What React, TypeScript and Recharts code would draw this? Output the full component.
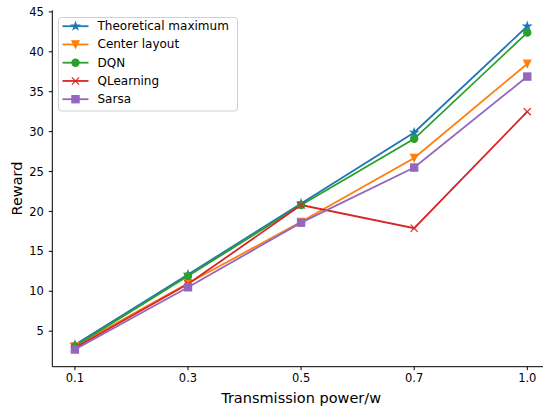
import React from "react";
import { LineChart, Line, XAxis, YAxis, Legend } from "recharts";

// x categories (transmission power) and reward per method
const powers = ["0.1", "0.3", "0.5", "0.7", "1.0"];
const theoretical = [3.3, 12.1, 21.0, 29.9, 43.2];
const centerLayout = [3.1, 11.0, 18.7, 26.7, 38.5];
const dqn = [3.1, 11.9, 20.8, 29.1, 42.4];
const qlearning = [2.9, 10.9, 20.8, 17.9, 32.5];
const sarsa = [2.7, 10.5, 18.6, 25.5, 36.9];
const yTicks = [5, 10, 15, 20, 25, 30, 35, 40, 45];

const data = powers.map((p, i) => ({
  i,
  p,
  theo: theoretical[i],
  center: centerLayout[i],
  dqn: dqn[i],
  q: qlearning[i],
  sarsa: sarsa[i],
}));

const FONT = "'DejaVu Sans', Verdana, sans-serif";
const R = 3.6;

type Shape = "star" | "tri" | "circle" | "x" | "square";

const series: { key: string; name: string; color: string; shape: Shape }[] = [
  { key: "theo", name: "Theoretical maximum", color: "#1f77b4", shape: "star" },
  { key: "center", name: "Center layout", color: "#ff7f0e", shape: "tri" },
  { key: "dqn", name: "DQN", color: "#2ca02c", shape: "circle" },
  { key: "q", name: "QLearning", color: "#d62728", shape: "x" },
  { key: "sarsa", name: "Sarsa", color: "#9467bd", shape: "square" },
];

function Mark({ shape, cx, cy, color }: { shape: Shape; cx: number; cy: number; color: string }) {
  if (cx == null || cy == null) return null;
  const sw = 1.2;
  switch (shape) {
    case "star": {
      const pts: string[] = [];
      const ro = R + 0.2;
      const ri = ro * 0.382;
      for (let k = 0; k < 10; k++) {
        const r = k % 2 === 0 ? ro : ri;
        const a = -Math.PI / 2 + (k * Math.PI) / 5;
        pts.push(`${cx + r * Math.cos(a)},${cy + r * Math.sin(a)}`);
      }
      return <polygon points={pts.join(" ")} fill={color} stroke={color} strokeWidth={sw} strokeLinejoin="miter" />;
    }
    case "tri":
      return (
        <polygon
          points={`${cx},${cy + R} ${cx - R},${cy - R} ${cx + R},${cy - R}`}
          fill={color}
          stroke={color}
          strokeWidth={sw}
        />
      );
    case "circle":
      return <circle cx={cx} cy={cy} r={R} fill={color} stroke={color} strokeWidth={sw} />;
    case "x":
      return (
        <g stroke={color} strokeWidth={sw}>
          <line x1={cx - R} y1={cy - R} x2={cx + R} y2={cy + R} />
          <line x1={cx - R} y1={cy + R} x2={cx + R} y2={cy - R} />
        </g>
      );
    case "square":
      return <rect x={cx - R} y={cy - R} width={2 * R} height={2 * R} fill={color} stroke={color} strokeWidth={sw} />;
  }
  return null;
}

function LegendBox() {
  return (
    <svg width={181} height={96} style={{ display: "block" }}>
      <rect x={0.5} y={0.5} width={179} height={93.5} rx={3} fill="#fff" fillOpacity={0.8} stroke="#d0d0d0" />
      {series.map((s, k) => {
        const y = 9.2 + k * 18.25;
        return (
          <g key={s.key}>
            <line x1={4.5} x2={30.5} y1={y} y2={y} stroke={s.color} strokeWidth={1.8} />
            <Mark shape={s.shape} cx={17.5} cy={y} color={s.color} />
            <text x={39.5} y={y} dominantBaseline="central" fontSize={12} fontFamily={FONT} fill="#000">
              {s.name}
            </text>
          </g>
        );
      })}
    </svg>
  );
}

const yLabel = (props: any) => {
  const vb = props.viewBox || { y: 10, height: 356 };
  const cx = 16.5;
  const cy = vb.y + vb.height / 2;
  return (
    <text
      x={cx}
      y={cy}
      transform={`rotate(-90 ${cx} ${cy})`}
      textAnchor="middle"
      dominantBaseline="central"
      fontSize={14.5}
      fontFamily={FONT}
      fill="#000"
    >
      Reward
    </text>
  );
};

const xLabel = (props: any) => {
  const vb = props.viewBox || { x: 52, width: 498 };
  return (
    <text x={vb.x + vb.width / 2} y={402.5} textAnchor="middle" fontSize={14.5} fontFamily={FONT} fill="#000">
      Transmission power/w
    </text>
  );
};

export default function App() {
  return (
    <div style={{ position: "absolute", left: 0, top: 0, width: 543, height: 410, overflow: "hidden", background: "#fff" }}>
      <LineChart width={552} height={410} data={data} margin={{ top: 10.3, right: 2.1, left: 0.3, bottom: 0 }}>
        <XAxis
          dataKey="i"
          type="number"
          domain={[-0.2, 4.2]}
          ticks={[0, 1, 2, 3, 4]}
          tickFormatter={(v: number) => powers[v]}
          height={43.3}
          tickSize={3.5}
          tickMargin={3.5}
          stroke="#000"
          axisLine={{ stroke: "#000", strokeWidth: 1 }}
          tickLine={{ stroke: "#000" }}
          tick={{ fontSize: 11.5, fill: "#000", fontFamily: FONT }}
          allowDataOverflow
          label={xLabel}
        />
        <XAxis
          xAxisId="top"
          orientation="top"
          dataKey="i"
          type="number"
          domain={[-0.2, 4.2]}
          height={0}
          tick={false}
          tickLine={false}
          axisLine={{ stroke: "#000", strokeWidth: 1 }}
        />
        <YAxis
          type="number"
          domain={[0.55, 45.2]}
          ticks={yTicks}
          width={52}
          tickSize={3.5}
          tickMargin={5}
          allowDataOverflow
          axisLine={{ stroke: "#000", strokeWidth: 1 }}
          tickLine={{ stroke: "#000" }}
          tick={{ fontSize: 11.5, fill: "#000", fontFamily: FONT }}
          label={yLabel}
        />
        <Legend
          layout="vertical"
          align="center"
          verticalAlign="middle"
          wrapperStyle={{ position: "absolute", left: 57.5, top: 16.5, width: 181, height: 96 }}
          content={() => <LegendBox />}
        />
        {series.map((s) => (
          <Line
            key={s.key}
            dataKey={s.key}
            name={s.name}
            stroke={s.color}
            strokeWidth={1.8}
            type="linear"
            isAnimationActive={false}
            dot={(p: any) => <Mark key={`${s.key}-${p.index}`} shape={s.shape} cx={p.cx} cy={p.cy} color={s.color} />}
            activeDot={false}
          />
        ))}
      </LineChart>
    </div>
  );
}
